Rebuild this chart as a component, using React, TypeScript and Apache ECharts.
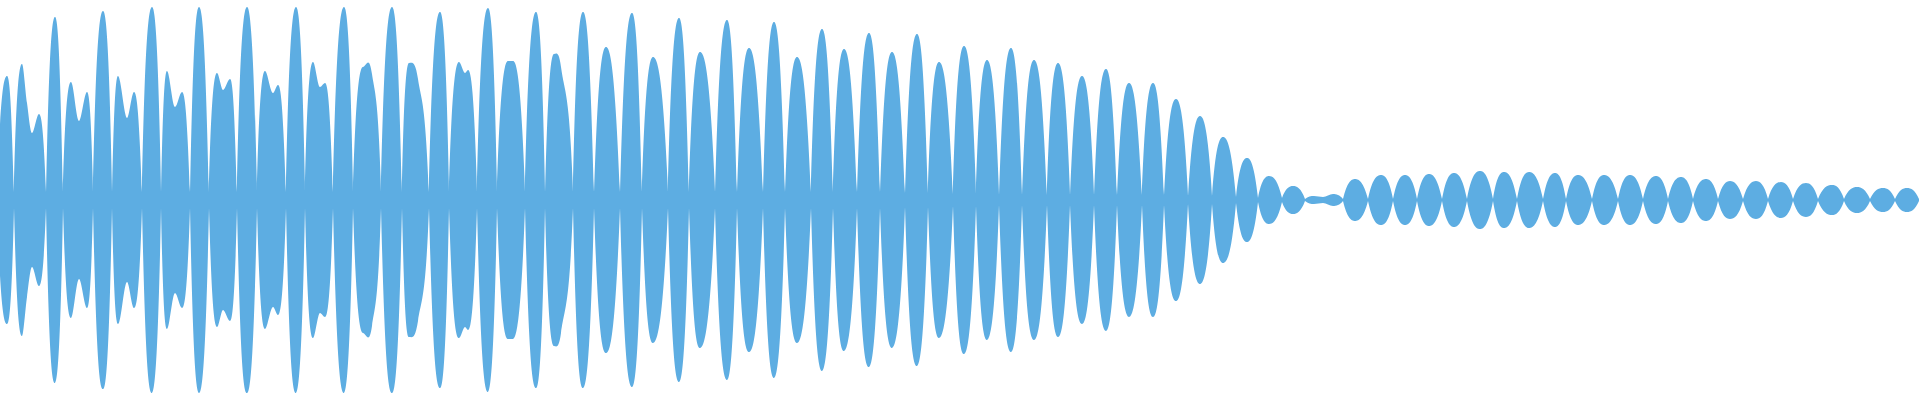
import React, { useEffect, useRef } from "react";
import * as echarts from "echarts";

// Waveform envelope (time in samples, amplitude in units of ±200)
// Zero-crossing nodes between lobes
const nodeTimes = [
  -3, 14, 46, 63, 93, 112, 142, 161, 190, 209, 237, 257, 286, 305, 333, 353, 381, 402, 429, 449,
  477, 497, 525, 545, 573, 594, 620, 642, 668, 689, 715, 737, 763, 785, 811, 833, 857, 880, 905, 928,
  953, 976, 999, 1022, 1047, 1070, 1094, 1117, 1142, 1164, 1188, 1212, 1236, 1258, 1282, 1305, 1343, 1368, 1393, 1417,
  1442, 1467, 1493, 1517, 1543, 1566, 1592, 1618, 1643, 1668, 1693, 1718, 1743, 1768, 1793, 1818, 1844, 1870, 1895, 1919,
];
const nodeAmps = [
  8, 8, 8, 8, 8, 8, 8, 8, 8, 8, 8, 8, 8, 8, 8, 8, 8, 8, 8, 8,
  8, 8, 8, 8, 8, 8, 8, 8, 8, 8, 8, 8, 8, 8, 8, 8, 8, 8, 7, 7,
  6, 6, 5, 5, 5, 5, 5, 5, 5, 5, 4, 4, 3, 2, 2, 1, 1, 1, 1, 1,
  1, 1, 1, 1, 1, 1, 1, 1, 1, 1, 1, 1, 1, 1, 1, 1, 1, 1, 1, 1,
];

// Crests (peaks, dips and shoulders inside each lobe)
const crestTimes = [
  7, 22, 27, 32, 39, 55, 71, 79, 87, 103, 118, 127, 134, 152, 167, 175, 182, 199, 217, 223,
  230, 247, 265, 273, 278, 296, 313, 320, 325, 344, 363, 372, 392, 409, 418, 440, 459, 465, 468, 488,
  508, 513, 536, 554, 561, 583, 606, 632, 653, 679, 700, 727, 749, 774, 797, 822, 844, 869, 892, 917,
  939, 964, 987, 1011, 1034, 1058, 1082, 1106, 1129, 1153, 1176, 1200, 1223, 1247, 1269, 1293, 1314, 1323, 1333, 1355,
  1381, 1405, 1429, 1454, 1480, 1504, 1529, 1555, 1578, 1604, 1630, 1656, 1681, 1706, 1730, 1756, 1781, 1806, 1832, 1857,
  1883, 1907,
];
const crestAmps = [
  124, 136, 97, 67, 86, 183, 118, 79, 108, 189, 124, 82, 108, 193, 129, 93, 108, 193, 127, 110,
  121, 193, 129, 107, 115, 193, 138, 113, 117, 193, 133, 126, 193, 137, 121, 188, 138, 127, 130, 192,
  139, 139, 188, 146, 133, 188, 153, 187, 143, 182, 148, 180, 152, 178, 143, 171, 151, 167, 148, 166,
  138, 154, 140, 152, 140, 137, 124, 131, 117, 117, 101, 84, 63, 42, 24, 14, 4, 3, 6, 21,
  25, 25, 26, 27, 29, 28, 28, 27, 25, 25, 25, 24, 23, 21, 19, 19, 18, 17, 15, 13,
  12, 12,
];

const COLOR = "#5dade2";
// how much steeper than the chord to its crest a lobe leaves its zero crossing (full, rounded lobes)
const NODE_SLOPE = 2.5;

// Draw one edge of the envelope through its points with Hermite curves:
// V-shaped at nodes, flat at crests that are extremes, monotone through shoulders.
function drawEdge(ctx: any, pts: number[][], move: boolean) {
  const n = pts.length;
  const slope = (i: number, side: number) => {
    const p = pts[i];
    if (p[2]) {
      const q = pts[i + side];
      if (!q) return 0;
      return (NODE_SLOPE * (q[1] - p[1])) / (q[0] - p[0]);
    }
    const a = pts[i - 1];
    const b = pts[i + 1];
    if (!a || !b) return 0;
    if ((p[1] - a[1]) * (b[1] - p[1]) <= 0) return 0;
    return (b[1] - a[1]) / (b[0] - a[0]);
  };
  if (move) ctx.moveTo(pts[0][0], pts[0][1]);
  else ctx.lineTo(pts[0][0], pts[0][1]);
  for (let i = 0; i < n - 1; i++) {
    const a = pts[i];
    const b = pts[i + 1];
    const dx = b[0] - a[0];
    const ma = slope(i, 1);
    const mb = slope(i + 1, -1);
    ctx.bezierCurveTo(a[0] + dx / 3, a[1] + (ma * dx) / 3, b[0] - dx / 3, b[1] - (mb * dx) / 3, b[0], b[1]);
  }
}

const WaveEnvelope = echarts.graphic.extendShape({
  shape: { pts: [] as number[][] },
  buildPath(ctx: any, shape: any) {
    const pts: number[][] = shape.pts;
    if (!pts || pts.length < 2) return;
    const top = pts.map((p) => [p[0], p[1], p[3]]);
    const bottom = pts
      .slice()
      .reverse()
      .map((p) => [p[0], p[2], p[3]]);
    drawEdge(ctx, top, true);
    drawEdge(ctx, bottom, false);
    ctx.closePath();
  },
});
echarts.graphic.registerShape("waveEnvelope", WaveEnvelope);

function envelopePoints(): number[][] {
  const pts: number[][] = [];
  nodeTimes.forEach((t, i) => pts.push([t, nodeAmps[i], 1]));
  crestTimes.forEach((t, i) => pts.push([t, crestAmps[i], 0]));
  pts.sort((a, b) => a[0] - b[0]);
  return pts;
}

export default function App() {
  const ref = useRef<HTMLDivElement>(null);
  useEffect(() => {
    if (!ref.current) return;
    const chart = echarts.init(ref.current, undefined, { renderer: "svg" });
    const env = envelopePoints();
    chart.setOption({
      animation: false,
      grid: { left: 0, right: 0, top: 0, bottom: 0 },
      tooltip: { show: false },
      xAxis: { type: "value", min: 0, max: 1920, show: false, splitLine: { show: false } },
      yAxis: { type: "value", min: -200, max: 200, show: false, splitLine: { show: false } },
      series: [
        {
          type: "custom",
          coordinateSystem: "cartesian2d",
          data: env.map((p) => [p[0], p[1]]),
          clip: true,
          silent: true,
          renderItem: (params: any, api: any) => {
            if (params.dataIndex !== 0) return null;
            const pts = env.map((p) => {
              const top = api.coord([p[0], p[1]]);
              const bottom = api.coord([p[0], -p[1]]);
              return [top[0], top[1], bottom[1], p[2]];
            });
            return {
              type: "waveEnvelope",
              shape: { pts },
              style: { fill: COLOR, stroke: null },
            };
          },
        },
      ],
    });
    return () => chart.dispose();
  }, []);
  return (
    <div
      ref={ref}
      style={{ position: "absolute", left: 0, top: 0, width: 1920, height: 400 }}
    />
  );
}
